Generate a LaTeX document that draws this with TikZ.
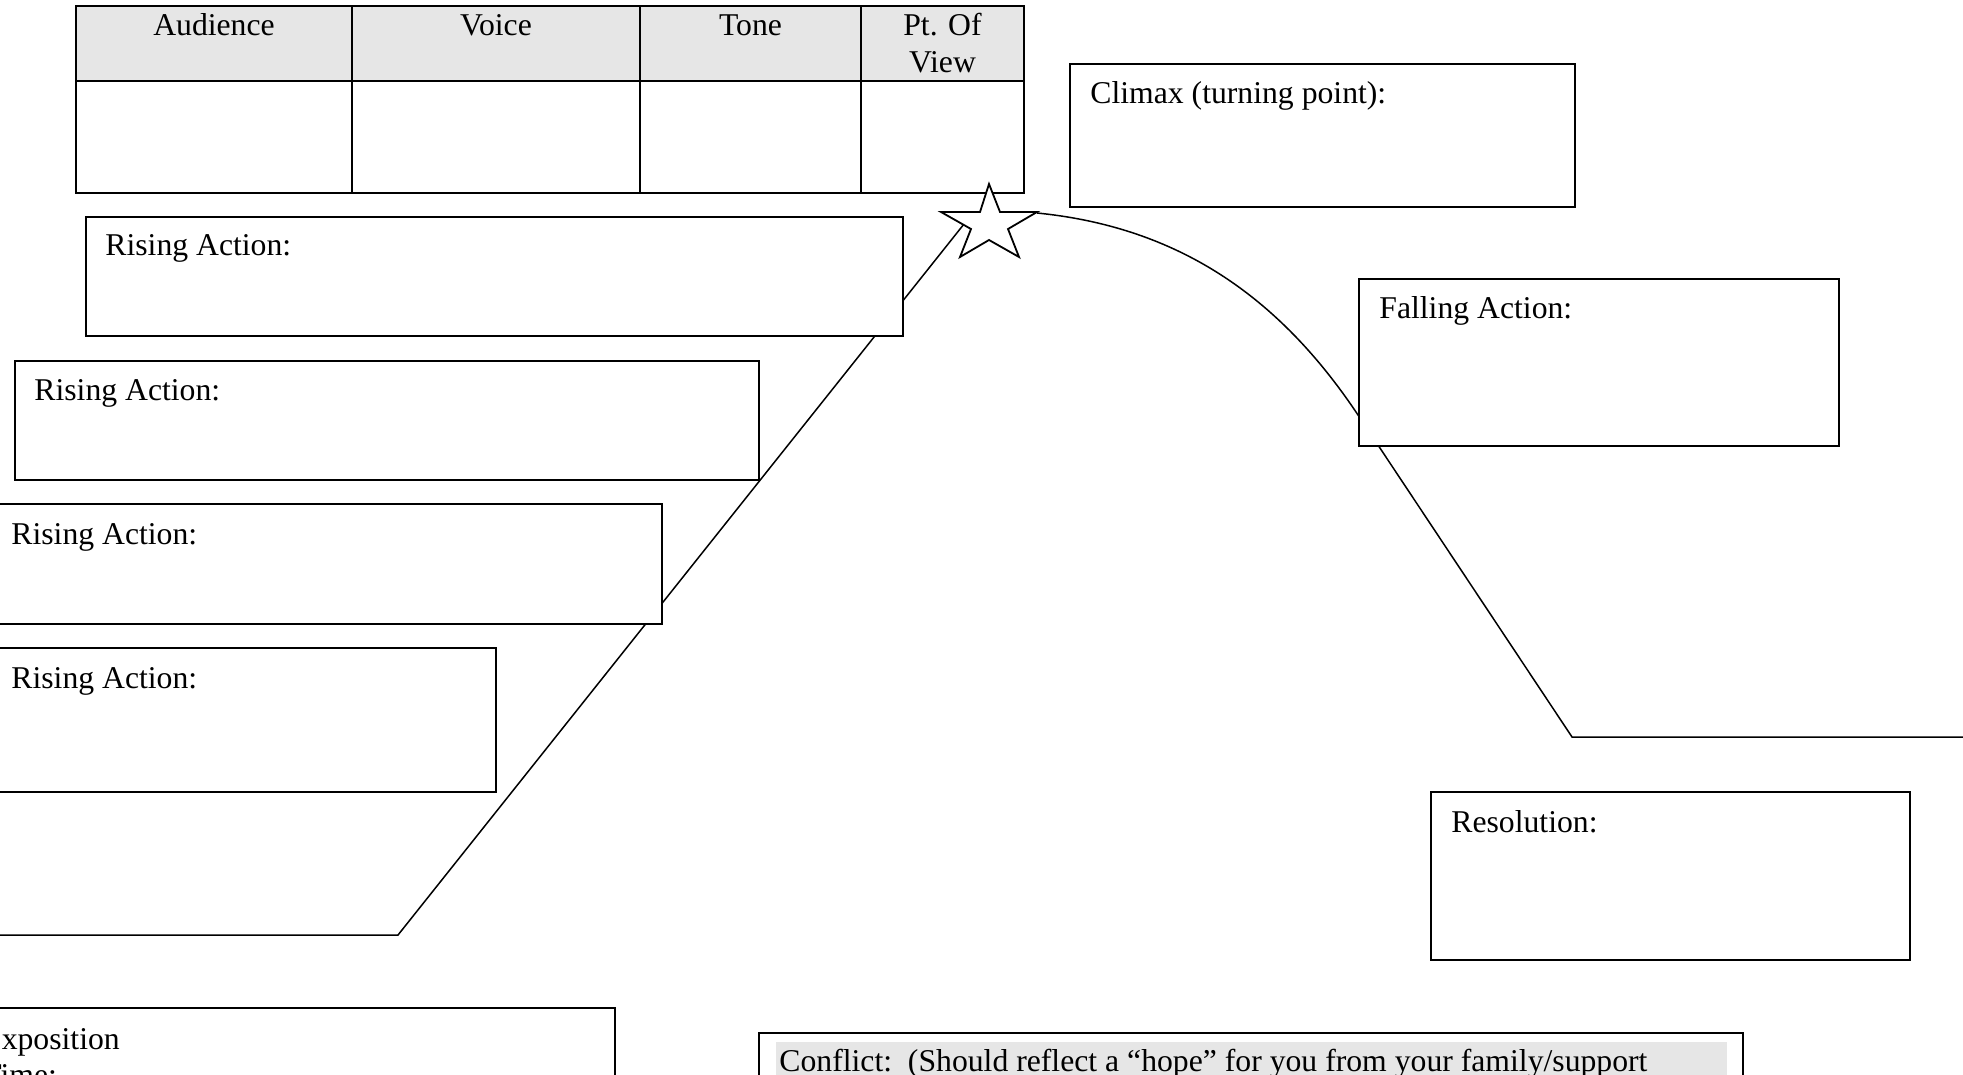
\documentclass[tikz,border=0pt]{standalone}
\usepackage{fontspec}
\setmainfont{Liberation Serif}
\definecolor{lightshade}{HTML}{E6E6E6}
\begin{document}
\begin{tikzpicture}[x=0.5pt,y=-0.5pt,
  box/.style={draw=black,line width=0.9pt,fill=white},
  lbl/.style={anchor=base west,inner sep=0pt,font=\fontsize{15.85}{18.2}\selectfont},
  hdr/.style={anchor=base,inner sep=0pt,font=\fontsize{15.85}{18.2}\selectfont},
  plotline/.style={line width=0.75pt,line join=miter}]
\useasboundingbox (0,0) rectangle (1963,1075);
\clip (0,0) rectangle (1963,1075);

% plot line (rising, climax curve, falling, resolution)
\coordinate (p0) at (0,935);
\coordinate (p1) at (398,935);
\coordinate (p2) at (968,219);
\coordinate (c0) at (1037,213);
\coordinate (c1) at (1358,415);
\coordinate (c2) at (1572,737);
\coordinate (c3) at (1963,737);
\draw[plotline] (p0) -- (p1) -- (p2);
\draw[plotline] (c0) .. controls (1177,227) and (1278,295) .. (c1) -- (c2) -- (c3);

% table
\fill[lightshade] (76,6) rectangle (1024,81);
\draw[line width=1.3pt] (76,6) rectangle (1024,193);
\draw[line width=1.3pt] (76,81) -- (1024,81);
\draw[line width=0.9pt] (352,6) -- (352,193) (640,6) -- (640,193) (861,6) -- (861,193);
\node[hdr] (h1) at (214,36) {Audience};
\node[hdr] (h2) at (496,36) {Voice};
\node[hdr] (h3) at (750.5,36) {Tone};
\node[hdr] (h4) at (942.5,36) {Pt. Of};
\node[hdr] (h5) at (942.5,73) {View};

% star
\draw[line width=0.9pt,fill=white,line join=miter]
  (989,184) -- (1000,212) -- (1037,212) -- (1008,229) -- (1019,257)
  -- (989,240) -- (960,257) -- (971,229) -- (941,212) -- (980,212) -- cycle;

% boxes
\draw[box] (1070,64) rectangle (1575,207);
\node[lbl] (climax) at (1090,104) {Climax (turning point):};

\draw[box] (86,217) rectangle (903,336);
\node[lbl] (ra1) at (105,256) {Rising Action:};

\draw[box] (15,361) rectangle (759,480);
\node[lbl] (ra2) at (34,400) {Rising Action:};

\draw[box] (-8,504) rectangle (662,624);
\node[lbl] (ra3) at (11,544) {Rising Action:};

\draw[box] (-8,648) rectangle (496,792);
\node[lbl] (ra4) at (11,688) {Rising Action:};

\draw[box] (1359,279) rectangle (1839,446);
\node[lbl] (fall) at (1379,318) {Falling Action:};

\draw[box] (1431,792) rectangle (1910,960);
\node[lbl] (res) at (1451,832) {Resolution:};

\draw[box] (-37,1008) rectangle (615,1120);
\node[lbl] (expo) at (-18,1049) {Exposition};
\node[lbl] (time) at (-18,1085) {Time:};

\draw[box] (759,1033) rectangle (1743,1120);
\fill[lightshade] (776,1042) rectangle (1727,1120);
\node[lbl] (conf) at (779,1071) {Conflict:\ \ (Should reflect a “hope” for you from your family/support};
\end{tikzpicture}
\end{document}
